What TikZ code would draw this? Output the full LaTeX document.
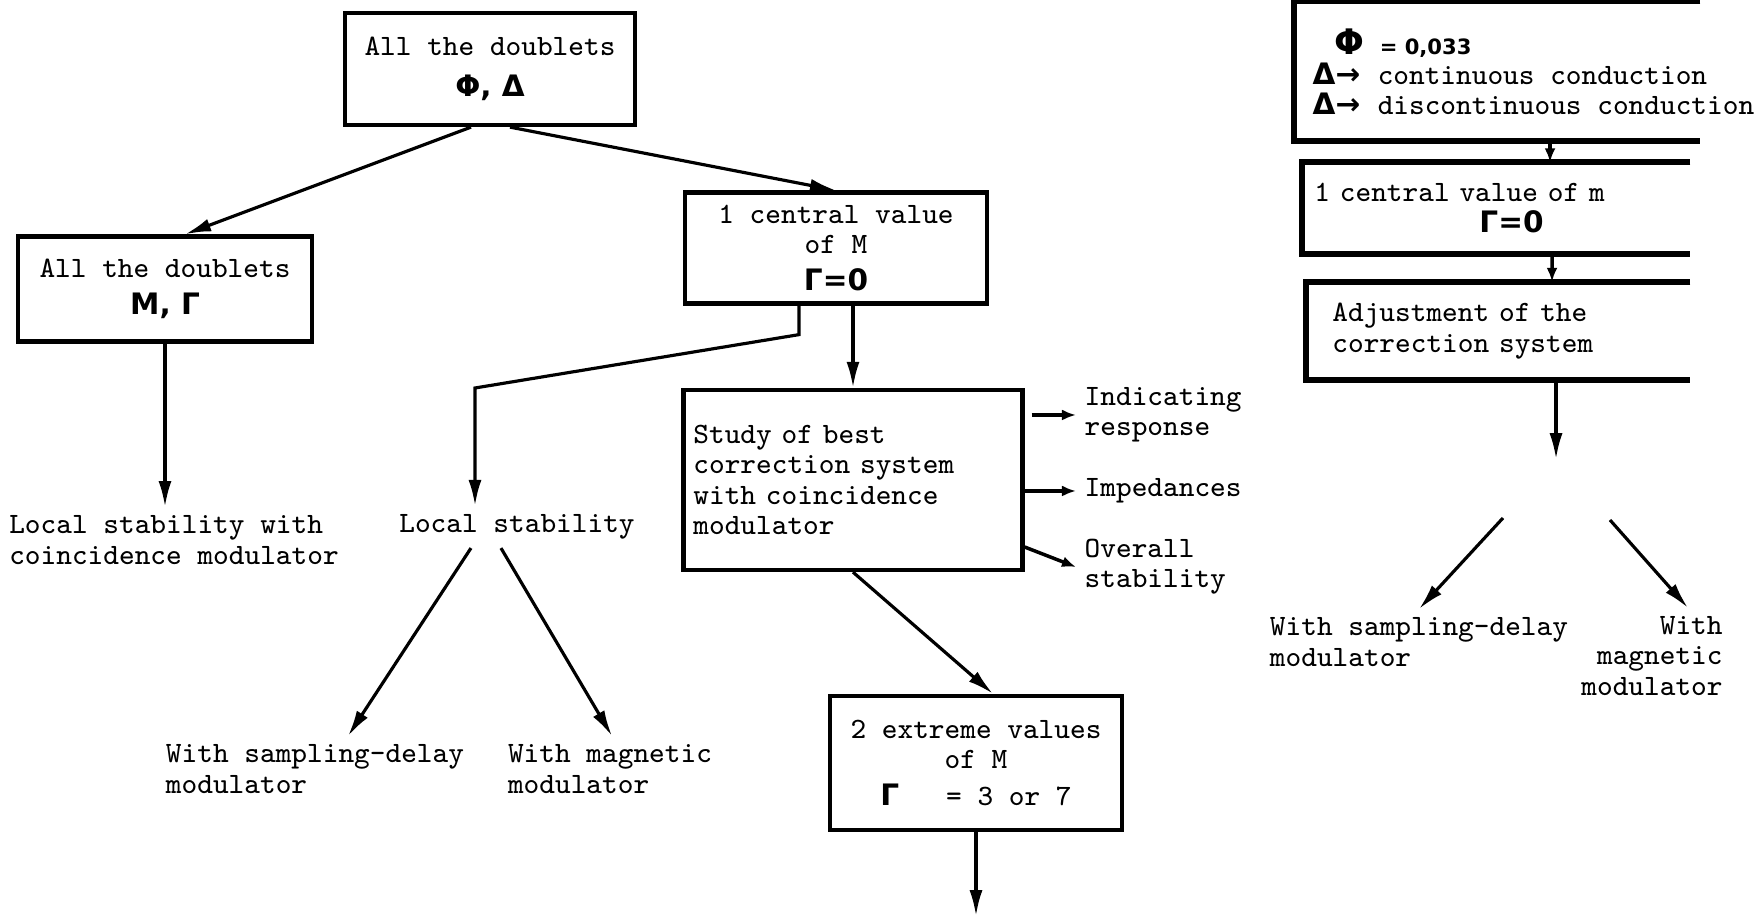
\documentclass[tikz,border=0pt]{standalone}
\usepackage{fontspec}
\newfontfamily\greekfont{DejaVu Sans}
\newcommand\grk[1]{{\greekfont\bfseries #1}}
\usetikzlibrary{arrows.meta}
\tikzset{
    box/.style={draw,line width=1.2pt,align=center,inner sep=0pt},
    obox/.style={draw=none,align=left,inner sep=0pt},
    txt/.style={align=left,inner sep=0.08cm},
    frame/.style={line width=1.7pt},
    flow/.style={
        every edge/.style={draw,line width=0.9pt,-{Latex[length=0.26cm,width=0.13cm]}},
    },
    side/.style={
        every edge/.style={draw,line width=1pt,-{Latex[length=0.14cm,width=0.11cm]}},
    }
}
\begin{document}
\begin{tikzpicture}[x=0.01cm,y=-0.01cm,font=\ttfamily\fontsize{8.4}{8.6}\selectfont]
\useasboundingbox (0,0) rectangle (1759,916);
\node[box,minimum width=2.9cm,minimum height=1.12cm] (a) at (490,69) {All the doublets\\[3pt]\grk{Φ, Δ}};
\node[box,minimum width=2.94cm,minimum height=1.05cm] (b) at (165,289) {All the doublets\\[2pt]\grk{M, Γ}};
\node[box,minimum width=3.02cm,minimum height=1.11cm] (c) at (836,248) {1 central value\\of M\\[2pt]\grk{Γ=0}};
\node[box,align=left,text width=3.19cm,inner xsep=0.1cm,minimum height=1.8cm] (d) at (853,480)
    {Study of best\\correction system\\with coincidence\\modulator};
\node[box,minimum width=2.92cm,minimum height=1.34cm] (e) at (976,763) {2 extreme values\\of M\\[2pt]\grk{Γ}\ \ \ = 3 or 7};
\node[txt] (lsc) at (174,540) {Local stability with\\coincidence modulator};
\node[txt] (ls) at (517,527) {Local stability};
\node[txt] (wsd) at (315,769) {With sampling-delay\\modulator};
\node[txt] (wmg) at (610,769) {With magnetic\\modulator};
\node[txt,anchor=west] (ir) at (1076,415) {Indicating\\response};
\node[txt,anchor=west] (imp) at (1076,491) {Impedances};
\node[txt,anchor=west] (ov) at (1076,567) {Overall\\stability};
\coordinate (lsk) at (475,388);
\path[flow]
    ([xshift=-0.19cm]a.south) edge ([xshift=0.2cm]b.north)
    ([xshift=0.2cm]a.south) edge (c.north)
    (b.south) edge (b.south |- lsc.north)
    (c.south -| d.north) edge (d.north)
    (d.south) edge ([xshift=0.17cm]e.north)
    (e.south) edge ++(0,84)
    ([xshift=-0.46cm]ls.south) edge ([xshift=0.33cm]wsd.north)
    ([xshift=-0.16cm]ls.south) edge ([xshift=0.02cm]wmg.north)
;
\draw[line width=0.9pt,-{Latex[length=0.26cm,width=0.13cm]}]
    ([xshift=-0.37cm]c.south) -- ++(0,29) -- (lsk) -- (lsk |- ls.north);
\path[side]
    ([xshift=0.07cm]ir.west -| d.east) edge (ir.west)
    (imp.west -| d.east) edge (imp.west)
    ([yshift=-0.67cm]d.east) edge (ov.west)
;
\node[obox,minimum width=4.05cm,minimum height=1.38cm] (r1) at (1497,71) {};
\node[txt,anchor=west] (r1t) at (1304,72)
    {\hspace*{0.22cm}\makebox[0.45cm][l]{\grk{\fontsize{10}{10}\selectfont Φ}}\grk{\fontsize{6}{7}\selectfont= 0,033}\\[0pt]
     \makebox[0.65cm][l]{\grk{Δ→}}continuous conduction\\
     \makebox[0.65cm][l]{\grk{Δ→}}discontinuous conduction};
\node[obox,text width=3.63cm,inner xsep=0.12cm,minimum height=0.9cm] (r2) at (1496,208)
    {1 central value of m\\\hspace*{1.65cm}\grk{Γ=0}};
\node[obox,text width=3.31cm,inner xsep=0.26cm,minimum height=0.97cm] (r3) at (1498,331)
    {Adjustment of the\\correction system};
\node[txt] (rwsd) at (1419,642) {With sampling-delay\\modulator};
\node[txt,align=right] (rwmg) at (1652,656) {With\\magnetic\\modulator};
\coordinate (rsl) at (1503,518);
\coordinate (rsr) at (1610,520);
\foreach \f in {r1,r2,r3}
    \draw[frame] (\f.north east) -- (\f.north west) -- (\f.south west) -- (\f.south east);
\path[side]
    ([xshift=0.53cm]r1.south) edge ([xshift=0.54cm]r2.north)
    ([xshift=0.56cm]r2.south) edge ([xshift=0.54cm]r3.north)
;
\path[flow]
    ([xshift=0.58cm]r3.south) edge ++(0,79)
    (rsl) edge (rwsd.north)
    (rsr) edge ([xshift=0.36cm]rwmg.north)
;
\end{tikzpicture}
\end{document}
